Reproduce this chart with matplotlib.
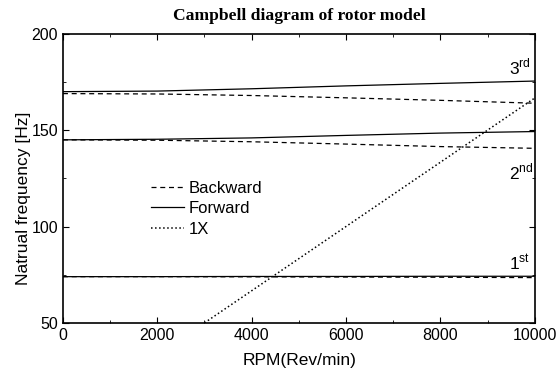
import matplotlib
matplotlib.use('Agg')
import matplotlib.pyplot as plt
from matplotlib.ticker import MultipleLocator

# rotor speed samples (rpm)
rpm = [0, 2000, 4000, 6000, 8000, 10000]

# natural frequencies (Hz)
fw_1 = [74.0, 74.0, 74.1, 74.1, 74.2, 74.2]
bw_1 = [74.0, 74.0, 73.9, 73.8, 73.7, 73.5]
fw_2 = [145.0, 145.3, 146.0, 147.3, 148.5, 149.3]
bw_2 = [145.0, 144.8, 144.0, 142.8, 141.5, 140.6]
fw_3 = [170.0, 170.3, 171.5, 173.0, 174.3, 175.5]
bw_3 = [169.0, 168.8, 168.0, 166.8, 165.5, 164.0]

# 1X excitation line
rpm_1x = [0, 10000]
freq_1x = [0, 166.7]

mode_labels = ['1$^{\\rm st}$', '2$^{\\rm nd}$', '3$^{\\rm rd}$']
label_pos = [(9450, 81), (9450, 128), (9450, 183)]

plt.rcParams['font.family'] = ['Liberation Sans', 'DejaVu Sans']
plt.rcParams['mathtext.fontset'] = 'custom'
plt.rcParams['mathtext.rm'] = 'Liberation Sans'

fig = plt.figure(figsize=(5.57, 3.72), dpi=100)
ax = fig.add_axes([0.113, 0.132, 0.847, 0.777])

ax.plot(rpm, bw_1, 'k--', lw=0.9, dashes=(4, 3), label='Backward')
ax.plot(rpm, fw_1, 'k-', lw=0.9, label='Forward')
ax.plot(rpm_1x, freq_1x, 'k:', lw=1.1, label='1X')
ax.plot(rpm, bw_2, 'k--', lw=0.9, dashes=(4, 3))
ax.plot(rpm, fw_2, 'k-', lw=0.9)
ax.plot(rpm, bw_3, 'k--', lw=0.9, dashes=(4, 3))
ax.plot(rpm, fw_3, 'k-', lw=0.9)

for lab, (x, y) in zip(mode_labels, label_pos):
    ax.text(x, y, lab, fontsize=12.5, ha='left', va='center')

ax.set_xlim(0, 10000)
ax.set_ylim(50, 200)
ax.xaxis.set_major_locator(MultipleLocator(2000))
ax.xaxis.set_minor_locator(MultipleLocator(1000))
ax.yaxis.set_major_locator(MultipleLocator(50))
ax.yaxis.set_minor_locator(MultipleLocator(25))
ax.tick_params(which='both', direction='in', top=True, right=True, labelsize=11.5)
ax.tick_params(which='major', length=4)
ax.tick_params(which='minor', length=2)
for s in ax.spines.values():
    s.set_linewidth(1.2)

ax.set_xlabel('RPM(Rev/min)', fontsize=12.5)
ax.set_ylabel('Natrual frequency [Hz]', fontsize=12.5)
ax.xaxis.set_label_coords(0.502, -0.105)
ax.yaxis.set_label_coords(-0.068, 0.43)
ax.set_title('Campbell diagram of rotor model', fontsize=12.6, fontweight='bold',
             family='Liberation Serif', pad=10)

ax.legend(loc='upper left', bbox_to_anchor=(0.172, 0.515), frameon=False,
          fontsize=12, handlelength=2.0, handletextpad=0.3, labelspacing=0.33,
          borderaxespad=0)

fig.savefig('out.png', dpi=100)
